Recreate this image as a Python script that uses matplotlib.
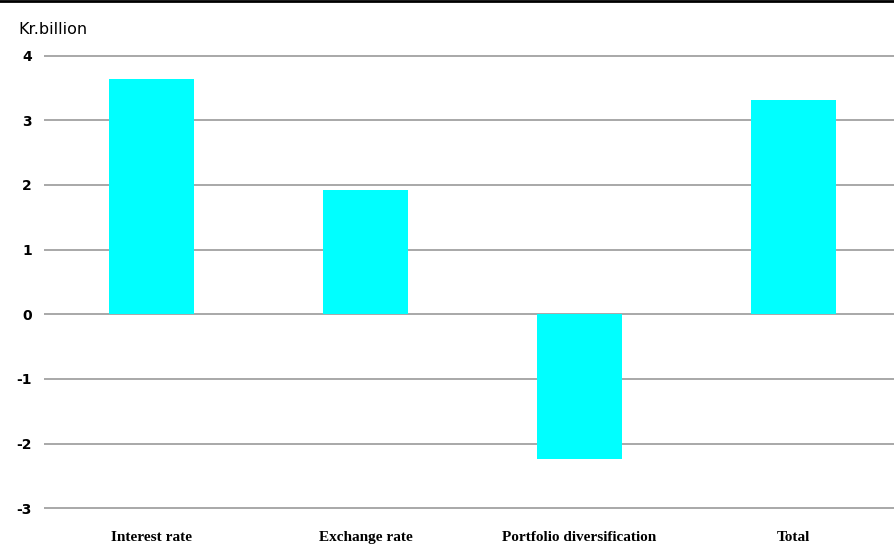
import matplotlib
matplotlib.use("Agg")
import matplotlib.pyplot as plt
from matplotlib.lines import Line2D

categories = ["Interest rate", "Exchange rate", "Portfolio diversification", "Total"]
values = [3.63, 1.92, -2.24, 3.31]
yticks = [-3, -2, -1, 0, 1, 2, 3, 4]

fig = plt.figure(figsize=(8.95, 5.5), dpi=100)
ax = fig.add_axes([0.0497, 0.07, 0.9503, 0.8349])

for y in yticks:
    ax.axhline(y, color="#a8a8a8", lw=1.4, zorder=1)

x = list(range(len(categories)))
ax.bar(x, values, width=0.4, color="#00ffff", zorder=2)

ax.set_xlim(-0.5, 3.474)
ax.set_ylim(-3.05, 4.05)
ax.set_yticks(yticks)
ax.set_yticklabels([str(v) for v in yticks], fontsize=10, fontweight="bold",
                   family="DejaVu Sans")
ax.set_xticks(x)
ax.set_xticklabels(categories, fontsize=11, fontweight="bold",
                   family="Liberation Serif")
ax.tick_params(axis="both", length=0)
ax.tick_params(axis="y", pad=9)
ax.tick_params(axis="x", pad=14)
for s in ax.spines.values():
    s.set_visible(False)

fig.text(18 / 895, 1 - 29 / 550, "Kr.billion", fontsize=11.5, va="center",
         ha="left", family="DejaVu Sans")

fig.add_artist(Line2D([0, 1], [0.999, 0.999], color="black", lw=2,
                      transform=fig.transFigure))

fig.savefig("out.png", dpi=100)
